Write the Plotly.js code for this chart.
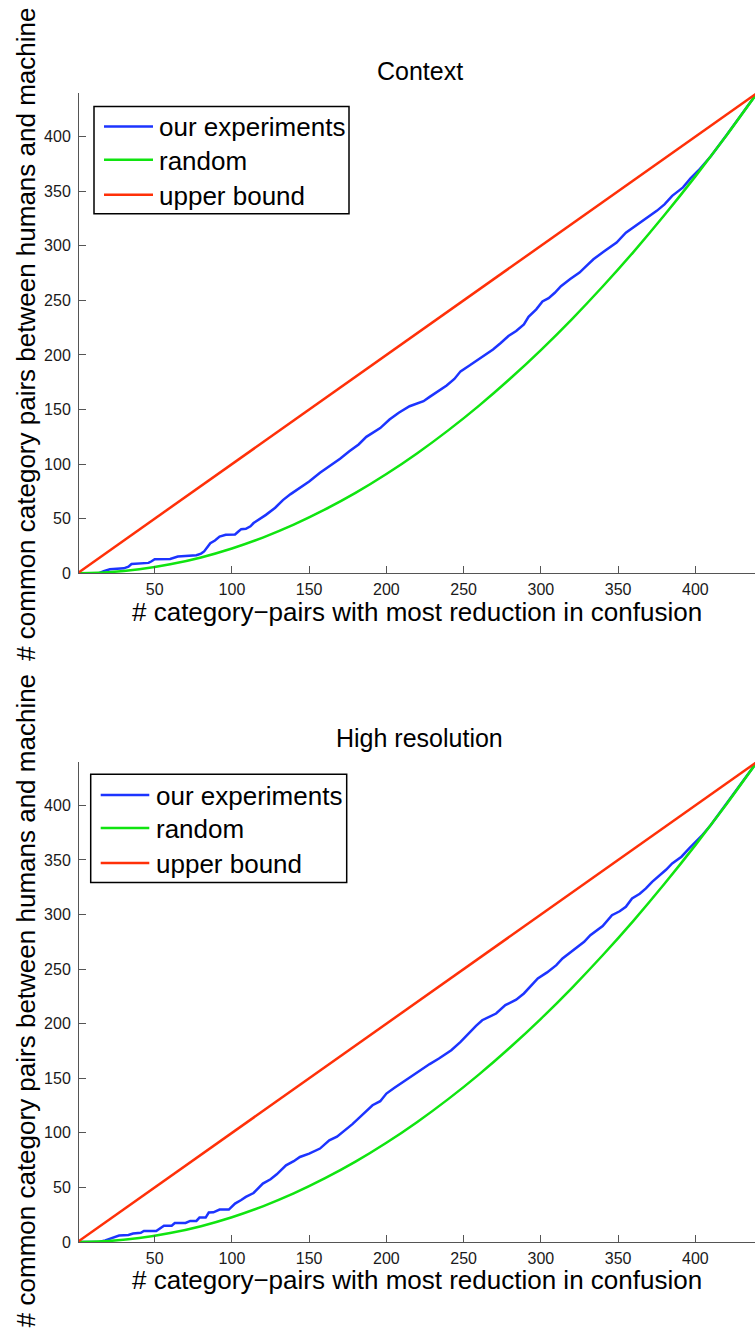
<!DOCTYPE html>
<html>
<head>
<meta charset="utf-8">
<script src="https://cdn.plot.ly/plotly-3.0.1.min.js"></script>
<style>
  html, body { margin: 0; padding: 0; background: #fff; }
  #chart { width: 755px; height: 1333px; }
</style>
</head>
<body>
<div id="chart"></div>
<script>
// Upper bound: every selected pair is shared
const boundX = [0, 440];
const boundY = [0, 440];

// Random ordering baseline
const randomX = [0, 20, 40, 60, 80, 100, 120, 140, 160, 180, 200, 220, 240, 260, 280, 300, 320, 340, 360, 380, 400, 420, 440];
const randomY = [0, 0.9, 3.6, 8.2, 14.5, 22.7, 32.7, 44.5, 58.2, 73.6, 90.9, 110, 130.9, 153.6, 178.2, 204.5, 232.7, 262.7, 294.5, 328.2, 363.6, 400.9, 440];

// "Context" experiment
const contextX = [1, 14, 17, 21, 30, 33, 35, 46, 48, 50, 60, 62, 65, 77, 80, 82, 84, 86, 89, 92, 96, 102, 104, 106, 109, 112, 114, 118, 122, 128, 133, 138, 142, 146, 150, 157, 165, 170, 176, 182, 187, 196, 202, 208, 215, 220, 224, 228, 233, 239, 244, 248, 254, 260, 265, 269, 274, 279, 284, 289, 292, 297, 301, 305, 309, 313, 319, 325, 329, 334, 341, 349, 355, 363, 370, 375, 380, 385, 392, 397, 402, 410, 420, 430, 440];
const contextY = [0, 0, 2, 3.7, 4.5, 6.1, 8.5, 9.5, 11, 12.8, 13, 13.8, 15.3, 16.5, 18, 20, 24, 27.5, 30, 33.6, 35.2, 35.5, 38, 40.4, 40.7, 43, 46, 49.5, 53.5, 60, 67, 72.5, 76.5, 80, 84, 92, 99.5, 105, 111.7, 118, 125, 133, 140.8, 147, 153, 155.5, 157.6, 161.6, 166, 172, 178, 185, 190.5, 196, 201, 205, 211, 217.3, 222, 228, 235, 241.8, 249, 252, 257, 263, 269.5, 275.5, 281, 287.7, 295, 303, 312, 320, 327.5, 332, 338, 345.8, 353.5, 362, 369, 382, 401, 420, 440];

// "High resolution" experiment
const hiresX = [1, 14, 18, 23, 27, 33, 36, 41, 43, 51, 54, 56, 61, 63, 70, 73, 77, 79, 83, 85, 88, 92, 98, 102, 106, 109, 114, 117, 120, 125, 129, 135, 140, 144, 150, 157, 163, 168, 172, 178, 183, 187, 191, 196, 200, 205, 211, 216, 222, 228, 234, 242, 248, 254, 258, 262, 267, 271, 277, 284, 289, 294, 298, 304, 310, 314, 318, 323, 328, 332, 336, 340, 346, 351, 355, 359, 364, 368, 372, 377, 381, 385, 391, 396, 400, 404, 410, 420, 430, 440];
const hiresY = [0, 0, 1.5, 4, 5.9, 6.5, 7.7, 8.5, 10.1, 10.1, 13, 15, 15, 17.4, 17.4, 19.3, 19.3, 22.4, 22.4, 27, 27.2, 29.7, 29.7, 35.2, 38.5, 41.3, 44.9, 49, 53.5, 57.5, 62, 70.3, 74, 77.9, 81, 85.6, 93.2, 96.5, 100.8, 108, 114.6, 120, 125.3, 129, 136, 141, 146.7, 152, 157.4, 163, 168.1, 175.7, 183.3, 192.5, 198, 203.2, 206.5, 209.3, 217, 222, 227.7, 235, 241.4, 247, 253.6, 259.8, 264, 268.9, 275, 281.1, 285, 289.4, 299.4, 303, 307.1, 314.8, 319, 323.9, 330, 336.1, 341, 346.8, 353, 360.6, 366, 372, 382, 401, 420, 440];

// Labels
const panelTitles = ['Context', 'High resolution'];
const seriesNames = ['our experiments', 'random', 'upper bound'];
const xTitle = '# category\u2212pairs with most reduction in confusion';
const yTitle = '# common category pairs between humans and machine';
const xTicks = [50, 100, 150, 200, 250, 300, 350, 400];
const yTicks = [0, 50, 100, 150, 200, 250, 300, 350, 400];

const FONT = 'Liberation Sans, Arial, Helvetica, sans-serif';
const colors = ['rgb(28,52,255)', 'rgb(16,228,16)', 'rgb(255,48,8)'];
const LW = 2.5;

function panelTraces(expX, expY, xa, ya) {
  return [
    { x: expX, y: expY, xaxis: xa, yaxis: ya, name: seriesNames[0],
      mode: 'lines', line: { color: colors[0], width: LW } },
    { x: randomX, y: randomY, xaxis: xa, yaxis: ya, name: seriesNames[1],
      mode: 'lines', line: { color: colors[1], width: LW, shape: 'spline', smoothing: 0.6 } },
    { x: boundX, y: boundY, xaxis: xa, yaxis: ya, name: seriesNames[2],
      mode: 'lines', line: { color: colors[2], width: LW } }
  ];
}

const data = [
  ...panelTraces(contextX, contextY, 'x', 'y'),
  ...panelTraces(hiresX, hiresY, 'x2', 'y2')
];

// Page geometry (plot areas span rows 93.3 .. 1241.7)
const H = 1333, mT = 93.3, mB = 91.3;
const plotH = H - mT - mB;
const py = p => (H - mB - p) / plotH;          // pixel row -> paper y
const mL = 79, plotW = 755 - mL;
const px = p => (p - mL) / plotW;              // pixel column -> paper x

function xAxis(anchor) {
  return {
    anchor: anchor, range: [1, 438.6], tickvals: xTicks,
    ticks: 'inside', ticklen: 7, tickcolor: '#555', tickwidth: 1,
    showline: true, linecolor: '#555', linewidth: 1,
    showgrid: false, zeroline: false, mirror: false,
    tickfont: { family: FONT, size: 16, color: '#1a1a1a' }, ticklabelstandoff: 2
  };
}
function yAxis(anchor, domain) {
  return {
    anchor: anchor, domain: domain, range: [0, 440], tickvals: yTicks,
    ticks: 'inside', ticklen: 7, tickcolor: '#555', tickwidth: 1,
    showline: true, linecolor: '#555', linewidth: 1,
    showgrid: false, zeroline: false, mirror: false,
    tickfont: { family: FONT, size: 16, color: '#1a1a1a' }, ticklabelstandoff: 4
  };
}

const textAnn = (text, x, y, size, angle, anchor) => ({
  text: text, xref: 'paper', yref: 'paper', x: x, y: y,
  xanchor: anchor || 'center', yanchor: 'middle', showarrow: false, textangle: angle || 0,
  font: { family: FONT, size: size, color: '#000' }
});

// Legend boxes: frame, sample lines and entry labels for each panel
const legends = [
  { left: 94, top: 106.7, right: 349, bottom: 214, lineX0: 104, lineX1: 153, textX: 157, rows: [126.7, 160, 195] },
  { left: 90.7, top: 774.3, right: 346.7, bottom: 882.3, lineX0: 100.7, lineX1: 149.3, textX: 154, rows: [795, 828, 863] }
];
const shapes = [];
const legendTexts = [];
legends.forEach(L => {
  shapes.push({ type: 'rect', xref: 'paper', yref: 'paper', layer: 'above',
    x0: px(L.left), x1: px(L.right), y0: py(L.bottom), y1: py(L.top),
    fillcolor: '#fff', line: { color: '#000', width: 1.5 } });
  L.rows.forEach((r, i) => {
    shapes.push({ type: 'line', xref: 'paper', yref: 'paper', layer: 'above',
      x0: px(L.lineX0), x1: px(L.lineX1), y0: py(r), y1: py(r),
      line: { color: colors[i], width: LW } });
    legendTexts.push(textAnn(seriesNames[i], px(L.textX), py(r + 1), 26, 0, 'left'));
  });
});

const layout = {
  width: 755, height: H,
  margin: { l: mL, r: 0, t: mT, b: mB, pad: 0 },
  paper_bgcolor: '#fff', plot_bgcolor: '#fff',
  showlegend: false,
  xaxis: xAxis('y'),
  yaxis: yAxis('x', [py(573.3), 1]),
  xaxis2: xAxis('y2'),
  yaxis2: yAxis('x2', [0, py(761.7)]),
  shapes: shapes,
  annotations: [
    textAnn(panelTitles[0], px(420), py(71), 25),
    textAnn(panelTitles[1], px(419), py(738), 25),
    textAnn(xTitle, px(417), py(612), 26),
    textAnn(xTitle, px(417), py(1280), 26),
    textAnn(yTitle, px(26), py(335), 26, -90),
    textAnn(yTitle, px(26), py(1001), 26, -90),
    ...legendTexts
  ]
};

Plotly.newPlot('chart', data, layout, { staticPlot: true, displayModeBar: false });
</script>
</body>
</html>
